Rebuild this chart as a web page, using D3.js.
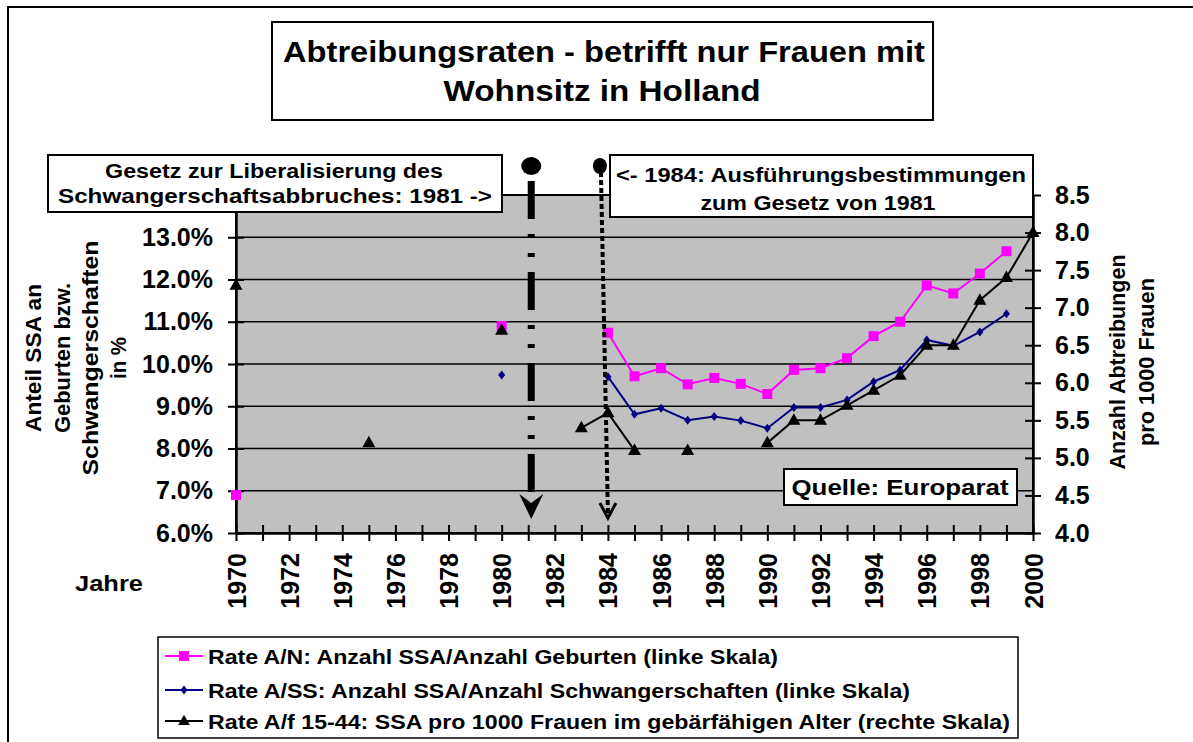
<!DOCTYPE html>
<html><head><meta charset="utf-8">
<script src="https://cdn.jsdelivr.net/npm/d3@7"></script>
<style>
html,body{margin:0;padding:0;background:#fff;}
svg text{font-family:Arial,"Liberation Sans",Helvetica,sans-serif !important;font-weight:bold;fill:#000;}
</style></head>
<body><svg id="c" width="1193" height="742" font-family="Arial, 'Liberation Sans', sans-serif"></svg>
<script>
// ---- data ----
const years = d3.range(1970, 2001);
const yearLabels = d3.range(1970, 2001, 2);
const leftTicks = d3.range(6, 14.001, 1);
const rightTicks = d3.range(4, 8.501, 0.5);
// Rate A/N (left scale, %)
const rateAN = {1970:6.9, 1980:10.9, 1984:10.74, 1985:9.71, 1986:9.9, 1987:9.52, 1988:9.67, 1989:9.53, 1990:9.29,
  1991:9.86, 1992:9.9, 1993:10.14, 1994:10.66, 1995:11.0, 1996:11.86, 1997:11.67, 1998:12.14, 1999:12.67};
// Rate A/SS (left scale, %)
const rateASS = {1980:9.74, 1984:9.7, 1985:8.81, 1986:8.95, 1987:8.67, 1988:8.76, 1989:8.66, 1990:8.48,
  1991:8.97, 1992:8.97, 1993:9.15, 1994:9.58, 1995:9.86, 1996:10.57, 1997:10.43, 1998:10.76, 1999:11.19};
// Rate A/f 15-44 (right scale, per 1000)
const rateF = {1970:7.3, 1975:5.2, 1980:6.7, 1983:5.4, 1984:5.6, 1985:5.1, 1987:5.1, 1990:5.2, 1991:5.5,
  1992:5.5, 1993:5.7, 1994:5.9, 1995:6.1, 1996:6.5, 1997:6.5, 1998:7.1, 1999:7.4, 2000:8.0};
const legendLabels = [
  "Rate A/N: Anzahl SSA/Anzahl Geburten (linke Skala)",
  "Rate A/SS: Anzahl SSA/Anzahl Schwangerschaften (linke Skala)",
  "Rate A/f 15-44: SSA pro 1000 Frauen im gebärfähigen Alter (rechte Skala)"
];
const titleLines = ["Abtreibungsraten - betrifft nur Frauen mit", "Wohnsitz in Holland"];
const note1981 = ["Gesetz zur Liberalisierung des", "Schwangerschaftsabbruches: 1981 ->"];
const note1984 = ["<- 1984: Ausführungsbestimmungen", "zum Gesetz von 1981"];
const sourceText = "Quelle: Europarat";
const leftTitle = ["Anteil SSA an", "Geburten bzw.", "Schwangerschaften", "in %"];
const rightTitle = ["Anzahl Abtreibungen", "pro 1000 Frauen"];

const series = years.map(y => ({year:y, an: rateAN[y] ?? null, ass: rateASS[y] ?? null, f: rateF[y] ?? null}));

// ---- layout ----
const svg = d3.select("#c");
const L = 236, R = 1033, T = 195, B = 533;
const x = d3.scaleLinear().domain([1970, 2000]).range([L, R]);
const yL = d3.scaleLinear().domain([6, 14]).range([B, T]);
const yR = d3.scaleLinear().domain([4, 8.5]).range([B, T]);

// outer frame
svg.append("path").attr("d", "M8,742 L8,7 L1193,7").attr("fill","none").attr("stroke","#000").attr("stroke-width",2);

// plot background
svg.append("rect").attr("x",L).attr("y",T).attr("width",R-L).attr("height",B-T)
  .attr("fill","#c0c0c0").attr("stroke","#000").attr("stroke-width",2);

// gridlines
svg.append("g").selectAll("line").data(leftTicks.filter(v => v > 6 && v < 14)).join("line")
  .attr("x1",L).attr("x2",R).attr("y1",d=>yL(d)).attr("y2",d=>yL(d))
  .attr("stroke","#000").attr("stroke-width",1.6);

// axes
const gL = svg.append("g").attr("transform",`translate(${L},0)`)
  .call(d3.axisLeft(yL).tickValues(leftTicks).tickFormat(d=> d < 14 ? d.toFixed(1)+"%" : "").tickSize(8).tickSizeOuter(0).tickPadding(15));
gL.attr("font-family",null);
gL.selectAll(".tick line").attr("x1",8).attr("stroke-width",2);
gL.select(".domain").attr("stroke-width",2.5);
gL.selectAll("text").style("font-size","25px");

const gR = svg.append("g").attr("transform",`translate(${R},0)`)
  .call(d3.axisRight(yR).tickValues(rightTicks).tickFormat(d3.format(".1f")).tickSize(8).tickSizeOuter(0).tickPadding(14));
gR.attr("font-family",null);
gR.selectAll(".tick line").attr("x1",-8).attr("stroke-width",2);
gR.select(".domain").attr("stroke-width",2.5);
gR.selectAll("text").style("font-size","25px");

const gB = svg.append("g").attr("transform",`translate(0,${B})`)
  .call(d3.axisBottom(x).tickValues(years).tickFormat(d => yearLabels.includes(d) ? String(d) : "").tickSize(8).tickSizeOuter(0));
gB.attr("font-family",null);
gB.selectAll(".tick line").attr("y1",-8).attr("stroke-width",2);
gB.select(".domain").attr("stroke-width",2.5);
gB.selectAll("text").style("font-size","25px").attr("transform","rotate(-90)")
  .attr("x",-20).attr("y",0).attr("dy","0.36em").style("text-anchor","end");

// lines
const lineAN = d3.line().defined(d=>d.an!==null).x(d=>x(d.year)).y(d=>yL(d.an));
const lineASS = d3.line().defined(d=>d.ass!==null).x(d=>x(d.year)).y(d=>yL(d.ass));
const lineF = d3.line().defined(d=>d.f!==null).x(d=>x(d.year)).y(d=>yR(d.f));
svg.append("path").attr("d",lineAN(series)).attr("fill","none").attr("stroke","#ff00ff").attr("stroke-width",2);
svg.append("path").attr("d",lineASS(series)).attr("fill","none").attr("stroke","#000080").attr("stroke-width",2);
svg.append("path").attr("d",lineF(series)).attr("fill","none").attr("stroke","#000").attr("stroke-width",2);

const sq = "M-5,-5H5V5H-5Z";
const dia = "M0,-4.5L3.5,0L0,4.5L-3.5,0Z";
const tri = "M0,-7L6.5,4.5L-6.5,4.5Z";
svg.append("g").selectAll("path").data(series.filter(d=>d.an!==null)).join("path")
  .attr("d",sq).attr("transform",d=>`translate(${x(d.year)},${yL(d.an)})`).attr("fill","#ff00ff");
svg.append("g").selectAll("path").data(series.filter(d=>d.ass!==null)).join("path")
  .attr("d",dia).attr("transform",d=>`translate(${x(d.year)},${yL(d.ass)})`).attr("fill","#000080");
svg.append("g").selectAll("path").data(series.filter(d=>d.f!==null)).join("path")
  .attr("d",tri).attr("transform",d=>`translate(${x(d.year)},${yR(d.f)})`).attr("fill","#000");

// annotation arrows
const xa = x(1981) + 3;
svg.append("ellipse").attr("cx",xa).attr("cy",166).attr("rx",10).attr("ry",9).attr("fill","#000");
svg.append("line").attr("x1",xa).attr("x2",xa).attr("y1",181).attr("y2",500)
  .attr("stroke","#000").attr("stroke-width",7).attr("stroke-dasharray","38 15 4 15 4 15");
svg.append("path").attr("d",`M${xa},519 L${xa-12},494 L${xa},503 L${xa+12},494 Z`).attr("fill","#000");

const xb = x(1984);
svg.append("ellipse").attr("cx",xb-8).attr("cy",166).attr("rx",7).attr("ry",8).attr("fill","#000");
svg.append("line").attr("x1",xb-7).attr("x2",xb).attr("y1",172).attr("y2",514)
  .attr("stroke","#000").attr("stroke-width",4).attr("stroke-dasharray","5 3");
svg.append("path").attr("d",`M${xb-8},503 L${xb},518 L${xb+8},503`).attr("fill","none").attr("stroke","#000").attr("stroke-width",3);

// boxes helper
function box(x0,y0,x1,y1,sw){
  svg.append("rect").attr("x",x0).attr("y",y0).attr("width",x1-x0).attr("height",y1-y0)
    .attr("fill","#fff").attr("stroke","#000").attr("stroke-width",sw);
}
function txt(s,cx,by,size,len,anchor){
  const t = svg.append("text").attr("x",cx).attr("y",by).text(s).style("font-size",size+"px")
    .attr("text-anchor",anchor||"middle");
  if(len) t.attr("textLength",len).attr("lengthAdjust","spacingAndGlyphs");
  return t;
}

// title
box(272,22,933,120,2);
txt(titleLines[0],604,62,30,642);
txt(titleLines[1],602,101,30,317);

// note 1981
box(48,155,502,212,2);
txt(note1981[0],274,178,20,338);
txt(note1981[1],275,203,20,434);

// note 1984
box(610,155,1033,217,2);
txt(note1984[0],821,182,21,410);
txt(note1984[1],818,210,21,235);

// source
box(784,469,1017,505,2);
txt(sourceText,900,495,22,217);

// left axis title
const ltX = [33,62,90,118], ltLen = [148,150,235,42];
leftTitle.forEach((s,i)=>{
  svg.append("text").attr("transform",`translate(${ltX[i]},358) rotate(-90)`).attr("dy","0.36em")
    .attr("text-anchor","middle").style("font-size","22px").text(s)
    .attr("textLength",ltLen[i]).attr("lengthAdjust","spacingAndGlyphs");
});
// right axis title
const rtX = [1117,1146], rtLen = [215,168];
rightTitle.forEach((s,i)=>{
  svg.append("text").attr("transform",`translate(${rtX[i]},362) rotate(-90)`).attr("dy","0.36em")
    .attr("text-anchor","middle").style("font-size","22px").text(s)
    .attr("textLength",rtLen[i]).attr("lengthAdjust","spacingAndGlyphs");
});
// Jahre
txt("Jahre",109,591,22,68);

// legend
box(158,637,1018,738,1.5);
const legY = [656,690,721], legLen = [570,702,802];
const legColor = ["#ff00ff","#000080","#000"], legMark = [sq,dia,tri];
legendLabels.forEach((s,i)=>{
  svg.append("line").attr("x1",165).attr("x2",203).attr("y1",legY[i]).attr("y2",legY[i])
    .attr("stroke",legColor[i]).attr("stroke-width",2);
  svg.append("path").attr("d",legMark[i]).attr("transform",`translate(184,${legY[i]})${i===2?" scale(0.9)":""}`).attr("fill",legColor[i]);
  txt(s,208,legY[i]+8,21,legLen[i],"start");
});
</script></body></html>
